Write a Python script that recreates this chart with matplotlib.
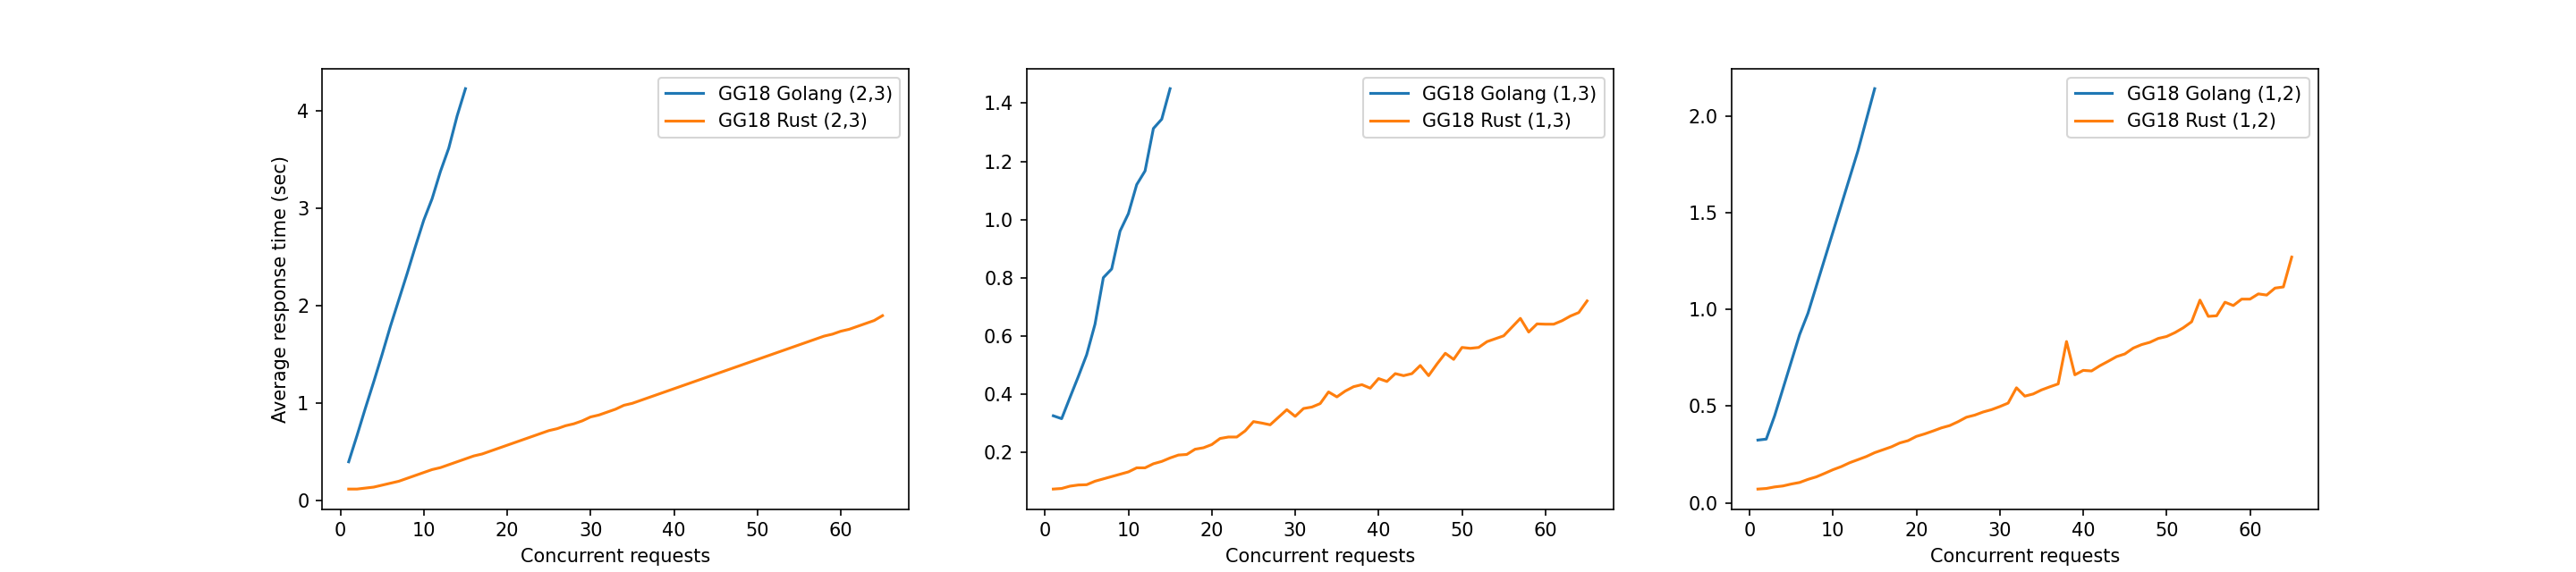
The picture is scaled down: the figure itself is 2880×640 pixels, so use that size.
import matplotlib
matplotlib.use("Agg")
import matplotlib.pyplot as plt

x_go = list(range(1, 16))
x_rust = list(range(1, 66))

go_23 = [0.40, 0.67, 0.95, 1.22, 1.50, 1.79, 2.06, 2.33, 2.61, 2.88, 3.10, 3.38, 3.62, 3.95, 4.23]
rust_23 = [0.12, 0.12, 0.13, 0.14, 0.16, 0.18, 0.20, 0.23, 0.26, 0.29,
           0.32, 0.34, 0.37, 0.40, 0.43, 0.46, 0.48, 0.51, 0.54, 0.57,
           0.60, 0.63, 0.66, 0.69, 0.72, 0.74, 0.77, 0.79, 0.82, 0.86,
           0.88, 0.91, 0.94, 0.98, 1.00, 1.03, 1.06, 1.09, 1.12, 1.15,
           1.18, 1.21, 1.24, 1.27, 1.30, 1.33, 1.36, 1.39, 1.42, 1.45,
           1.48, 1.51, 1.54, 1.57, 1.60, 1.63, 1.66, 1.69, 1.71, 1.74,
           1.76, 1.79, 1.82, 1.85, 1.90]

go_13 = [0.325, 0.315, 0.388, 0.46, 0.535, 0.64, 0.80, 0.83, 0.96, 1.02,
         1.12, 1.167, 1.313, 1.345, 1.45]
rust_13 = [0.073, 0.075, 0.083, 0.087, 0.088, 0.100, 0.108, 0.116, 0.124, 0.132,
           0.146, 0.146, 0.160, 0.168, 0.180, 0.190, 0.192, 0.210, 0.215, 0.226,
           0.247, 0.252, 0.252, 0.273, 0.305, 0.300, 0.294, 0.320, 0.346, 0.323,
           0.350, 0.355, 0.367, 0.407, 0.390, 0.410, 0.425, 0.432, 0.420, 0.453,
           0.443, 0.470, 0.463, 0.470, 0.498, 0.463, 0.503, 0.540, 0.519, 0.560,
           0.557, 0.560, 0.580, 0.590, 0.600, 0.630, 0.660, 0.613, 0.641, 0.640,
           0.640, 0.652, 0.668, 0.680, 0.720]

go_12 = [0.325, 0.33, 0.45, 0.59, 0.73, 0.87, 0.98, 1.12, 1.26, 1.40,
         1.54, 1.68, 1.82, 1.98, 2.14]
rust_12 = [0.072, 0.075, 0.083, 0.088, 0.098, 0.106, 0.122, 0.135, 0.153, 0.172,
           0.188, 0.208, 0.224, 0.240, 0.260, 0.275, 0.290, 0.310, 0.322, 0.344,
           0.357, 0.372, 0.388, 0.400, 0.420, 0.443, 0.454, 0.470, 0.482, 0.498,
           0.516, 0.595, 0.552, 0.563, 0.584, 0.600, 0.615, 0.834, 0.662, 0.685,
           0.682, 0.709, 0.732, 0.756, 0.770, 0.800, 0.818, 0.830, 0.850, 0.860,
           0.880, 0.905, 0.936, 1.048, 0.964, 0.967, 1.037, 1.020, 1.053, 1.053,
           1.080, 1.074, 1.110, 1.116, 1.270]

panels = [
    ("(2,3)", go_23, rust_23),
    ("(1,3)", go_13, rust_13),
    ("(1,2)", go_12, rust_12),
]

fig, axes = plt.subplots(1, 3, figsize=(19.2, 640 / 150), dpi=150)
for i, (ax, (tag, go, rust)) in enumerate(zip(axes, panels)):
    ax.plot(x_go, go, label=f"GG18 Golang {tag}")
    ax.plot(x_rust, rust, label=f"GG18 Rust {tag}")
    ax.set_xlabel("Concurrent requests")
    if i == 0:
        ax.set_ylabel("Average response time (sec)")
    ax.legend(loc="upper right")

fig.savefig("out.png", dpi=150)
